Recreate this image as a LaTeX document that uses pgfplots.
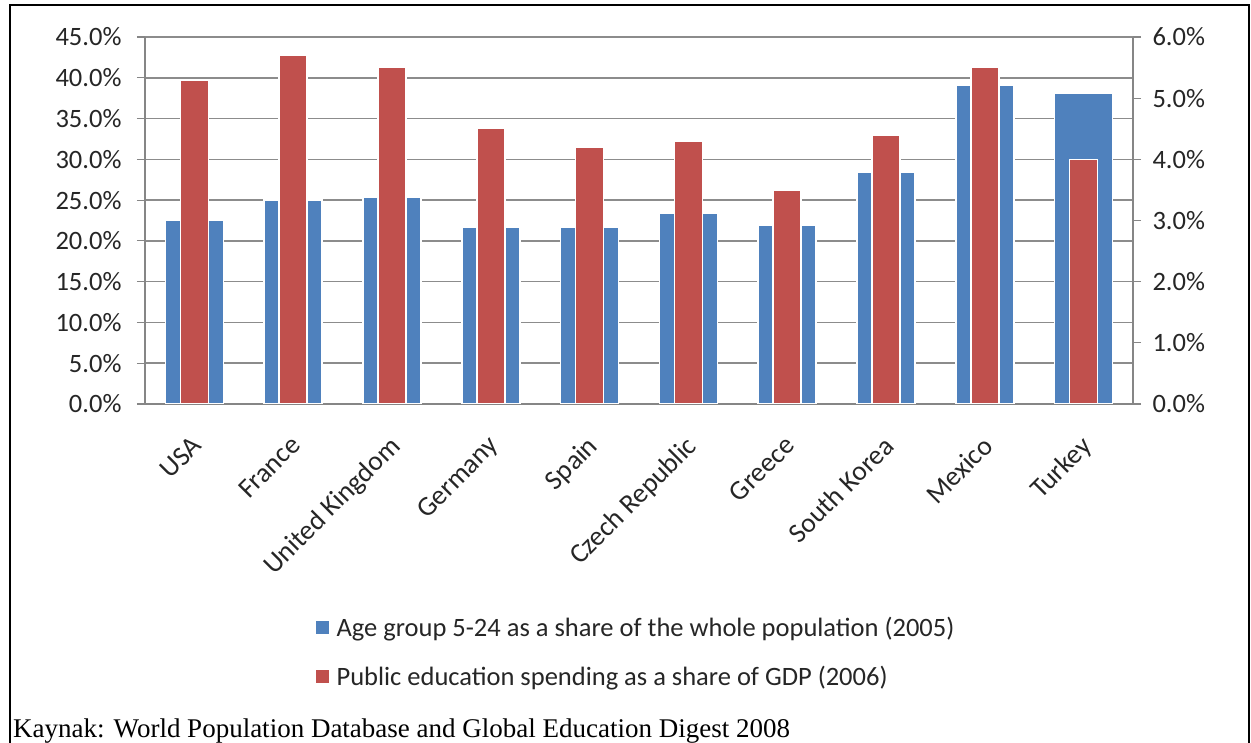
\documentclass[border=0pt]{standalone}
\usepackage{pgfplots}
\pgfplotsset{compat=1.18}
\usepackage{fontspec}
\setmainfont{Carlito}
\newfontfamily\timesf{Liberation Serif}
\definecolor{cblue}{HTML}{4F81BD}
\definecolor{cred}{HTML}{C0504D}
\definecolor{axgray}{HTML}{868686}
\definecolor{gridgray}{HTML}{8C8C8C}
\definecolor{txt}{HTML}{262626}
\begin{document}
\begin{tikzpicture}[x=1pt,y=1pt]
\useasboundingbox (0,0) rectangle (1251,743);
\fill[white] (0,0) rectangle (1251,743);
\draw[line width=2.5pt] (10,738) rectangle (1249,-20);
\pgfplotsset{
  base/.style={
    at={(145pt,339pt)}, anchor=south west,
    scale only axis, width=988pt, height=367pt,
    xmin=-0.5, xmax=9.5, ymin=0,
    tick label style={font=\fontsize{26.5}{30}\selectfont, text=txt},
    major tick length=8pt, tick align=outside,
    every tick/.style={axgray, line width=1.2pt},
    axis line style={axgray, line width=1.5pt},
  },
}
\begin{axis}[base,
  ymax=45,
  axis y line*=left, axis x line*=bottom,
  ytick={0,5,...,45},
  yticklabels={0.0\%,5.0\%,10.0\%,15.0\%,20.0\%,25.0\%,30.0\%,35.0\%,40.0\%,45.0\%},
  yticklabel style={xshift=-12pt},
  ymajorgrids, grid style={gridgray, line width=1.5pt},
  xtick={0,...,9},
  xticklabels={USA,France,United Kingdom,Germany,Spain,Czech Republic,Greece,South Korea,Mexico,Turkey},
  xtick style={draw=none},
  xticklabel style={rotate=45, anchor=north east, font=\fontsize{27.5}{30}\selectfont, inner sep=1pt, yshift=-12pt, xshift=-17.5pt},
  extra x ticks={-0.5,0.5,1.5,2.5,3.5,4.5,5.5,6.5,7.5,8.5,9.5},
  extra x tick labels={},
  extra x tick style={grid=none, tick style={axgray, line width=1.2pt}},
]
\addplot[ybar, bar width=58pt, bar shift=0pt, fill=cblue, draw=white, line width=1.5pt]
coordinates {(0,22.5) (1,25.0) (2,25.4) (3,21.7) (4,21.7) (5,23.4) (6,21.9) (7,28.4) (8,39.1) (9,38.1)};
\end{axis}
\begin{axis}[base,
  ymax=6,
  axis y line*=right, axis x line=none,
  ytick={0,1,...,6},
  yticklabels={0.0\%,1.0\%,2.0\%,3.0\%,4.0\%,5.0\%,6.0\%},
  yticklabel style={xshift=8pt},
  legend style={draw=none, fill=none, at={(axis description cs:0.170,-0.569)}, anchor=north west,
    font=\fontsize{26.5}{30}\selectfont, text=txt, row sep=24pt, cells={anchor=west}},
  legend cell align=left,
]
\addlegendimage{legend image code/.code={\fill[cblue] (0pt,-6pt) rectangle (12pt,6pt); \path (18pt,0pt);}}
\addlegendentry{Age group 5-24 as a share of the whole population (2005)}
\addlegendimage{legend image code/.code={\fill[cred] (0pt,-6pt) rectangle (12pt,6pt); \path (18pt,0pt);}}
\addlegendentry{Public education spending as a share of GDP (2006)}
\addplot[ybar, bar width=28pt, bar shift=0pt, fill=cred, draw=white, line width=1.5pt, forget plot]
coordinates {(0,5.3) (1,5.7) (2,5.5) (3,4.5) (4,4.2) (5,4.3) (6,3.5) (7,4.4) (8,5.5) (9,4.0)};
\end{axis}
\node[anchor=base west, inner sep=0pt, font=\timesf\fontsize{27}{30}\selectfont] at (13,5) {Kaynak: World Population Database and Global Education Digest 2008};
\end{tikzpicture}
\end{document}
